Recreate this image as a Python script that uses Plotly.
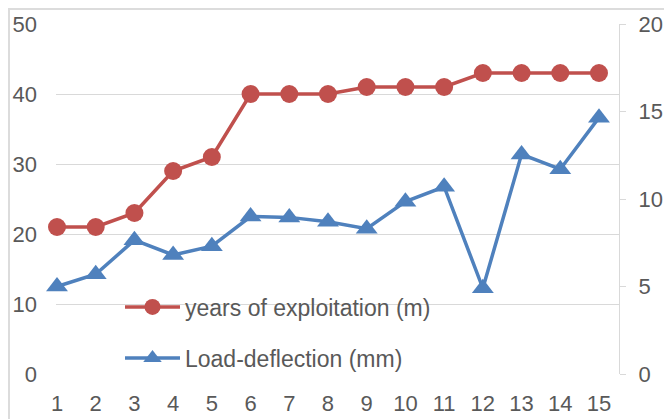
import plotly.graph_objects as go

categories = list(range(1, 16))
tick_labels = [str(c) for c in categories]
years_exploitation = [21, 21, 23, 29, 31, 40, 40, 40, 41, 41, 41, 43, 43, 43, 43]
load_deflection = [5.0, 5.7, 7.65, 6.8, 7.3, 9.0, 8.95, 8.7, 8.3, 9.85, 10.7, 4.9, 12.55, 11.7, 14.65]

RED = "#C0504D"
BLUE = "#4F81BD"
GRID = "#D9D9D9"
TXT = "#595959"
FONT = "Liberation Sans, Arial, sans-serif"

W, H = 664, 419
L, R, T, B = 56, 45, 24, 45
pw, ph = W - L - R, H - T - B

fig = go.Figure()
fig.add_trace(go.Scatter(
    x=categories, y=years_exploitation, name="years of exploitation (m)",
    mode="lines+markers", line=dict(color=RED, width=3.5),
    marker=dict(symbol="circle", size=18, color=RED),
    cliponaxis=False, legend="legend", yaxis="y"))
fig.add_trace(go.Scatter(
    x=categories, y=load_deflection, name="Load-deflection (mm)",
    mode="lines+markers", line=dict(color=BLUE, width=3.5),
    marker=dict(symbol="triangle-up", size=19, color=BLUE),
    cliponaxis=False, legend="legend2", yaxis="y2"))

# outer chart frame (partly cropped)
fig.add_shape(type="rect", xref="paper", yref="paper",
              x0=(9 - L) / pw, x1=(W + 20 - L) / pw,
              y0=-(B + 20) / ph, y1=1 + (T - 9) / ph,
              line=dict(color="#DCDCDC", width=2), layer="below")

fig.update_layout(
    width=W, height=H,
    margin=dict(l=L, r=R, t=T, b=B, autoexpand=False),
    paper_bgcolor="white", plot_bgcolor="white",
    font=dict(family=FONT, color=TXT, size=22),
    xaxis=dict(range=[1 - 1 / 38.7, 15.517], tickvals=categories, ticktext=tick_labels,
               showgrid=False, zeroline=False, showline=False, ticks="", automargin=False,
               tickfont=dict(size=22, color=TXT), ticklabelstandoff=14),
    yaxis=dict(range=[0, 50], dtick=10, showgrid=True, gridcolor=GRID, gridwidth=1,
               zeroline=False, showline=False, ticks="", automargin=False,
               tickfont=dict(size=22, color=TXT), ticklabelstandoff=18),
    yaxis2=dict(range=[0, 20], dtick=5, overlaying="y", side="right", automargin=False,
                showgrid=False, zeroline=False, showline=True, linecolor=GRID, linewidth=1,
                ticks="outside", ticklen=6, tickcolor=GRID,
                tickfont=dict(size=22, color=TXT), ticklabelstandoff=8),
    legend=dict(x=(120 - L) / pw, y=(374 - 307) / ph, xanchor="left", yanchor="middle",
                bgcolor="rgba(0,0,0,0)", font=dict(size=23, color=TXT), itemwidth=55),
    legend2=dict(x=(120 - L) / pw, y=(374 - 358) / ph, xanchor="left", yanchor="middle",
                 bgcolor="rgba(0,0,0,0)", font=dict(size=23, color=TXT), itemwidth=55),
    showlegend=True,
)

fig.write_html("out.html")
